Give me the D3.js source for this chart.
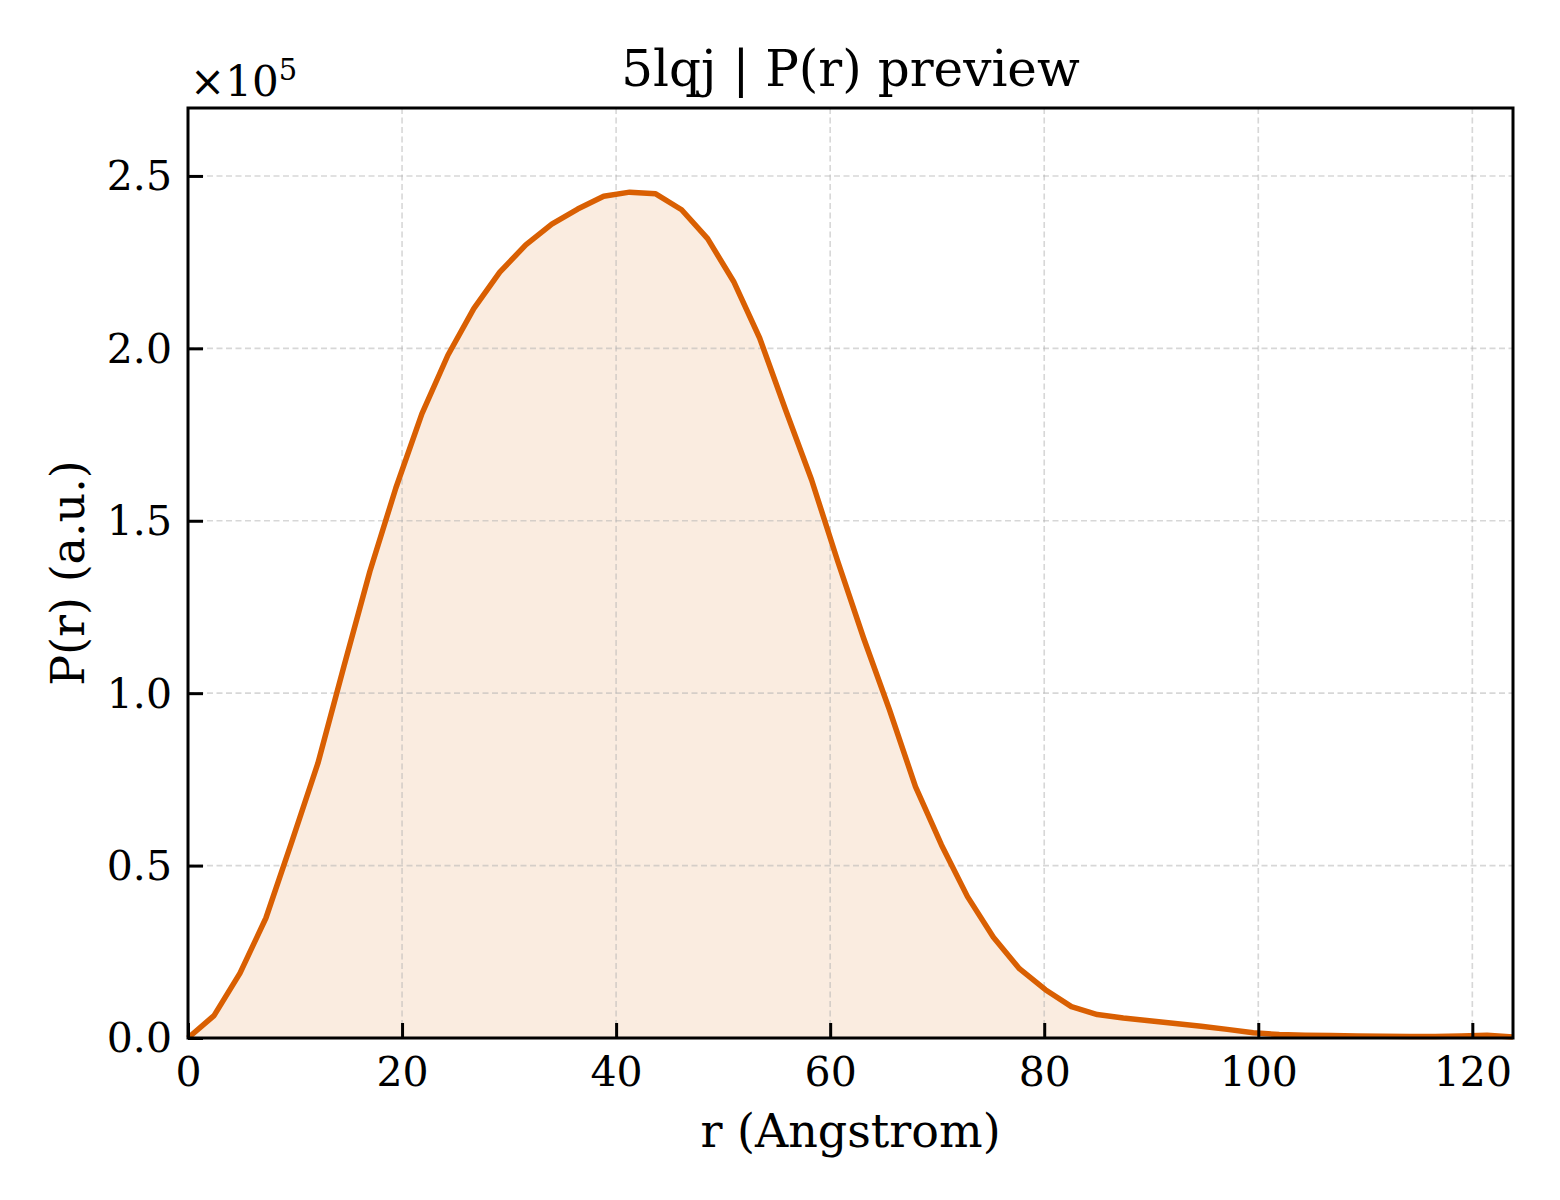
<!DOCTYPE html>
<html>
<head>
<meta charset="utf-8">
<script src="https://cdn.jsdelivr.net/npm/d3@7"></script>
<style>
  body { margin: 0; background: #fff; }
  svg text { font-family: "DejaVu Serif", serif; fill: #000; }
</style>
</head>
<body>
<script>
// r grid (Angstrom)
var rValues = [
  0, 2.43, 4.86, 7.28, 9.71, 12.14, 14.57, 16.99, 19.42, 21.85,
  24.28, 26.7, 29.13, 31.56, 33.99, 36.41, 38.84, 41.27, 43.7, 46.12,
  48.55, 50.98, 53.41, 55.83, 58.26, 60.69, 63.12, 65.54, 67.97, 70.4,
  72.83, 75.25, 77.68, 80.11, 82.54, 84.96, 87.39, 89.82, 92.25, 94.67,
  97.1, 99.53, 101.96, 104.38, 106.81, 109.24, 111.67, 114.09, 116.52, 118.95,
  121.38, 123.8
];
// P(r) in units of 1e5
var prValues = [
  0.0, 0.065, 0.188, 0.348, 0.57, 0.797, 1.078, 1.353, 1.595, 1.81,
  1.98, 2.115, 2.221, 2.3, 2.36, 2.404, 2.441, 2.453, 2.448, 2.402,
  2.318, 2.194, 2.03, 1.822, 1.619, 1.384, 1.16, 0.952, 0.729, 0.56,
  0.41, 0.292, 0.201, 0.14, 0.091, 0.068, 0.058, 0.05, 0.042, 0.034,
  0.025, 0.015, 0.01, 0.008, 0.007, 0.006, 0.005, 0.004, 0.004, 0.006,
  0.008, 0.003
];
var xTicks = [0, 20, 40, 60, 80, 100, 120];
var yTicks = [0, 0.5, 1.0, 1.5, 2.0, 2.5];
var exponent = 5;
var titleText = "5lqj | P(r) preview";
var xLabel = "r (Angstrom)";
var yLabel = "P(r) (a.u.)";

var width = 1560;
var height = 1200;
var margin = { left: 188, right: 47, top: 108, bottom: 162 };
var lineColor = "#d95f02";
var tickFont = 41;

var data = rValues.map(function (r, i) {
  return { r: r, p: prValues[i] };
});

var svg = d3
  .select("body")
  .append("svg")
  .attr("width", width)
  .attr("height", height);

var xScale = d3
  .scaleLinear()
  .domain([0, d3.max(rValues)])
  .range([margin.left, width - margin.right]);
var yScale = d3
  .scaleLinear()
  .domain([0, 2.697])
  .range([height - margin.bottom, margin.top]);

var x0 = xScale.range()[0], x1 = xScale.range()[1];
var y0 = yScale.range()[0], y1 = yScale.range()[1];

// filled area under the curve
svg
  .append("path")
  .datum(data)
  .attr("fill", lineColor)
  .attr("fill-opacity", 0.12)
  .attr(
    "d",
    d3
      .area()
      .x(function (d) { return xScale(d.r); })
      .y0(yScale(0))
      .y1(function (d) { return yScale(d.p); })
  );

// dashed grid
var grid = svg.append("g").classed("grid", true);
grid
  .selectAll("line.gx")
  .data(xTicks)
  .enter()
  .append("line")
  .attr("class", "gx")
  .attr("x1", function (d) { return xScale(d); })
  .attr("x2", function (d) { return xScale(d); })
  .attr("y1", y1)
  .attr("y2", y0);
grid
  .selectAll("line.gy")
  .data(yTicks)
  .enter()
  .append("line")
  .attr("class", "gy")
  .attr("x1", x0)
  .attr("x2", x1)
  .attr("y1", function (d) { return yScale(d); })
  .attr("y2", function (d) { return yScale(d); });
grid
  .selectAll("line")
  .attr("stroke", "#b0b0b0")
  .attr("stroke-opacity", 0.5)
  .attr("stroke-width", 1.6)
  .attr("stroke-dasharray", "6,3.5");

// the curve
svg
  .append("path")
  .datum(data)
  .attr("fill", "none")
  .attr("stroke", lineColor)
  .attr("stroke-width", 5.5)
  .attr("stroke-linejoin", "round")
  .attr(
    "d",
    d3
      .line()
      .x(function (d) { return xScale(d.r); })
      .y(function (d) { return yScale(d.p); })
  );

// axes, ticks pointing inward
var xAxis = d3
  .axisBottom(xScale)
  .tickValues(xTicks)
  .tickSize(-15)
  .tickPadding(19)
  .tickFormat(d3.format("d"));
var yAxis = d3
  .axisLeft(yScale)
  .tickValues(yTicks)
  .tickSize(-15)
  .tickPadding(16)
  .tickFormat(d3.format(".1f"));

var gx = svg
  .append("g")
  .attr("transform", "translate(0," + y0 + ")")
  .call(xAxis);
var gy = svg
  .append("g")
  .attr("transform", "translate(" + x0 + ",0)")
  .call(yAxis);

[gx, gy].forEach(function (g) {
  g.select(".domain").remove();
  g.selectAll(".tick line").attr("stroke", "#000").attr("stroke-width", 3);
  g.selectAll(".tick text")
    .style("font-family", "DejaVu Serif, serif")
    .style("font-size", tickFont + "px")
    .attr("fill", "#000");
});
gx.selectAll(".tick text").attr("dy", "0.71em");
gy.selectAll(".tick text").attr("dy", "0.34em");

// frame
svg
  .append("rect")
  .attr("x", x0)
  .attr("y", y1)
  .attr("width", x1 - x0)
  .attr("height", y0 - y1)
  .attr("fill", "none")
  .attr("stroke", "#000")
  .attr("stroke-width", 3);

// offset text above the y axis
var offset = svg
  .append("text")
  .attr("x", x0 + 2)
  .attr("y", 96)
  .style("font-size", "42px");
offset.append("tspan").text("\u00d710");
offset
  .append("tspan")
  .attr("dy", -16)
  .style("font-size", "29px")
  .text(exponent);

svg
  .append("text")
  .attr("x", (x0 + x1) / 2)
  .attr("y", 86)
  .attr("text-anchor", "middle")
  .style("font-size", "50px")
  .text(titleText);

svg
  .append("text")
  .attr("x", (x0 + x1) / 2)
  .attr("y", 1147)
  .attr("text-anchor", "middle")
  .style("font-size", "46px")
  .text(xLabel);

svg
  .append("text")
  .attr("text-anchor", "middle")
  .attr("transform", "translate(84," + (y0 + y1) / 2 + ") rotate(-90)")
  .style("font-size", "46px")
  .text(yLabel);
</script>
</body>
</html>
